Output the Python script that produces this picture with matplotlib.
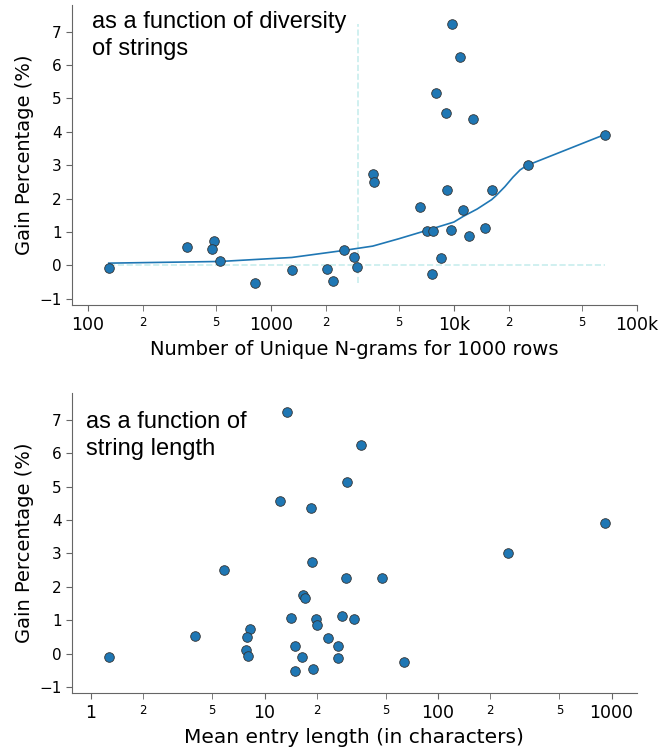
import numpy as np
import matplotlib
matplotlib.use('Agg')
import matplotlib.pyplot as plt
from matplotlib.ticker import FixedLocator, FixedFormatter

# gain per dataset (%), shared by both panels
gain = [-0.09, 0.54, 0.73, 0.50, 0.12, -0.51, -0.14, -0.10, -0.45, 0.46,
        0.24, -0.06, 2.73, 2.50, 7.24, 6.25, 5.15, 4.57, 4.37, 3.91,
        3.01, 2.26, 2.26, 1.76, 1.66, 1.04, 1.04, 1.07, 1.13, 0.87,
        0.22, -0.25]
n_grams = [130, 346, 489, 478, 526, 814, 1303, 2023, 2174, 2506,
           2842, 2940, 3623, 3656, 9750, 10780, 8000, 9010, 12710, 66800,
           25480, 9190, 16060, 6540, 11200, 7160, 7720, 9680, 14720, 12080,
           8500, 7600]
mean_len = [1.27, 3.98, 8.25, 7.89, 7.85, 15.0, 26.6, 16.4, 19.1, 23.1,
            26.4, 8.07, 18.9, 5.84, 13.53, 36.0, 29.9, 12.3, 18.5, 917,
            252, 29.6, 47.5, 16.7, 17.2, 19.7, 32.9, 14.2, 28.1, 20.2,
            15.05, 63.9]

# smoothed trend
trend_x = [130, 526, 1300, 2500, 3600, 5000, 7200, 10000, 11250, 13400,
           16070, 17000, 19000, 21000, 23000, 24500, 25480, 66800]
trend_y = [0.07, 0.12, 0.24, 0.45, 0.58, 0.80, 1.06, 1.30, 1.47, 1.69,
           1.97, 2.09, 2.36, 2.64, 2.86, 2.96, 3.01, 3.92]

threshold = 3000

top_major = [100, 1000, 10000, 100000]
top_major_lab = ['100', '1000', '10k', '100k']
top_minor = [200, 500, 2000, 5000, 20000, 50000]
bot_major = [1, 10, 100, 1000]
bot_major_lab = ['1', '10', '100', '1000']
bot_minor = [2, 5, 20, 50, 200, 500]

blue = '#1f77b4'
dash_col = '#c8eeee'
spine_col = '#666666'

fig = plt.figure(figsize=(6.6, 7.51), dpi=100)
ax1 = fig.add_axes([0.109, 0.594, 0.856, 0.3995])
ax2 = fig.add_axes([0.109, 0.0772, 0.856, 0.3995])


def style(ax, major, major_lab, minor):
    ax.set_xscale('log')
    ax.xaxis.set_major_locator(FixedLocator(major))
    ax.xaxis.set_major_formatter(FixedFormatter(major_lab))
    ax.xaxis.set_minor_locator(FixedLocator(minor))
    ax.xaxis.set_minor_formatter(FixedFormatter(['2', '5'] * 3))
    ax.tick_params(axis='x', which='major', labelsize=12.5, length=4,
                   color=spine_col, pad=4)
    ax.tick_params(axis='x', which='minor', labelsize=8.5, length=4,
                   color=spine_col, pad=4)
    ax.tick_params(axis='y', labelsize=11, length=4, color=spine_col)
    ax.set_yticks(range(-1, 8))
    ax.set_ylim(-1.18, 7.8)
    for s in ['top', 'right']:
        ax.spines[s].set_visible(False)
    for s in ['left', 'bottom']:
        ax.spines[s].set_color(spine_col)
    ax.set_ylabel('Gain Percentage (%)', fontsize=14)


# top: diversity of strings
ax1.plot(trend_x, trend_y, color=blue, lw=1.2, zorder=2)
ax1.scatter(n_grams, gain, s=48, color=blue, edgecolor='#333333',
            linewidth=0.6, zorder=3)
ax1.vlines(threshold, min(gain), max(gain), colors=dash_col,
           linestyles='--', lw=1.2, zorder=1)
ax1.hlines(0, min(n_grams), max(n_grams), colors=dash_col,
           linestyles='--', lw=1.2, zorder=1)
style(ax1, top_major, top_major_lab, top_minor)
ax1.set_xlim(81.8, 1e5)
ax1.set_xlabel('Number of Unique N-grams for 1000 rows', fontsize=14)
ax1.text(0.035, 0.98, 'as a function of diversity\nof strings',
         transform=ax1.transAxes, ha='left', va='top', fontsize=17,
         family='Liberation Sans', linespacing=1.3)

# bottom: string length
ax2.scatter(mean_len, gain, s=48, color=blue, edgecolor='#333333',
            linewidth=0.6, zorder=3)
style(ax2, bot_major, bot_major_lab, bot_minor)
ax2.set_xlim(0.777, 1399)
ax2.set_xlabel('Mean entry length (in characters)', fontsize=14.5)
ax2.text(0.025, 0.94, 'as a function of\nstring length',
         transform=ax2.transAxes, ha='left', va='top', fontsize=17,
         family='Liberation Sans', linespacing=1.3)

fig.savefig('out.png', dpi=100)
